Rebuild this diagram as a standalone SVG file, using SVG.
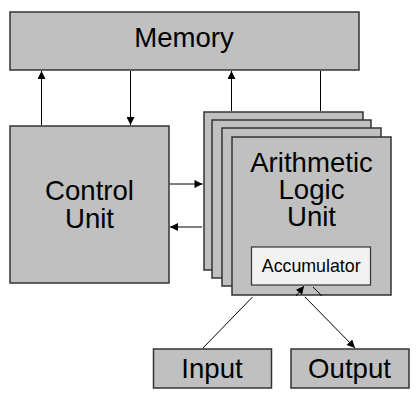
<svg xmlns="http://www.w3.org/2000/svg" width="418" height="400" viewBox="0 0 418 400">
<defs>
<marker id="arr" viewBox="0 0 10 10" refX="10" refY="5" markerWidth="9" markerHeight="8" markerUnits="userSpaceOnUse" orient="auto">
<path d="M0,0 L10,5 L0,10 z" fill="#000"/>
</marker>
<style>
.box{fill:#c0c0c0;stroke:#333;stroke-width:1.5}
.acc{fill:#f2f2f2;stroke:#333;stroke-width:1.2}
.lbl{font-family:"Liberation Sans",Arial,sans-serif;font-size:27.6px;fill:#000;text-anchor:middle}
.small{font-family:"Liberation Sans",Arial,sans-serif;font-size:17.8px;fill:#000;text-anchor:middle}
.ln{stroke:#000;stroke-width:1;fill:none}
.ar{stroke:#000;stroke-width:1;fill:none;marker-end:url(#arr)}
</style>
</defs>
<rect width="418" height="400" fill="#fff"/>
<g id="memory">
<rect class="box" x="10" y="12" width="349" height="58"/>
<text class="lbl" x="184" y="47.3">Memory</text>
</g>
<g id="control-unit">
<rect class="box" x="10" y="126" width="159" height="157"/>
<text class="lbl" x="89.5" y="200"><tspan x="89.5" y="200">Control</tspan><tspan x="89.5" y="227.7">Unit</tspan></text>
</g>
<g id="alu">
<rect class="box" x="204" y="112" width="159" height="158"/>
<rect class="box" x="212" y="120" width="159" height="158"/>
<rect class="box" x="222" y="128" width="159" height="158"/>
<rect class="box" x="232" y="137" width="159" height="158"/>
<text class="lbl" x="311.5" y="171.7"><tspan x="311.5" y="171.7">Arithmetic</tspan><tspan x="311.5" y="199">Logic</tspan><tspan x="311.5" y="226">Unit</tspan></text>
</g>
<g id="accumulator">
<rect class="acc" x="251.5" y="247" width="119" height="38"/>
<text class="small" x="311.2" y="272.3">Accumulator</text>
</g>
<g id="input">
<rect class="box" x="153.5" y="349" width="118" height="39"/>
<text class="lbl" x="212" y="378.3">Input</text>
</g>
<g id="output">
<rect class="box" x="291" y="349" width="118" height="39"/>
<text class="lbl" x="349.5" y="378.3">Output</text>
</g>
<g id="connectors">
<line class="ar" x1="41.5" y1="125" x2="41.5" y2="71"/>
<line class="ar" x1="130.5" y1="71" x2="130.5" y2="125"/>
<line class="ar" x1="231.5" y1="111" x2="231.5" y2="71"/>
<line class="ln" x1="320.5" y1="71" x2="320.5" y2="111"/>
<line class="ar" x1="170" y1="184" x2="202.5" y2="184"/>
<line class="ar" x1="202" y1="227" x2="170" y2="227"/>
<line class="ln" x1="203" y1="348" x2="252.5" y2="297"/>
<line class="ar" x1="296" y1="296" x2="304" y2="286"/>
<line class="ln" x1="313" y1="287" x2="322" y2="296"/>
<line class="ar" x1="305" y1="297" x2="355" y2="348"/>
</g>
</svg>
